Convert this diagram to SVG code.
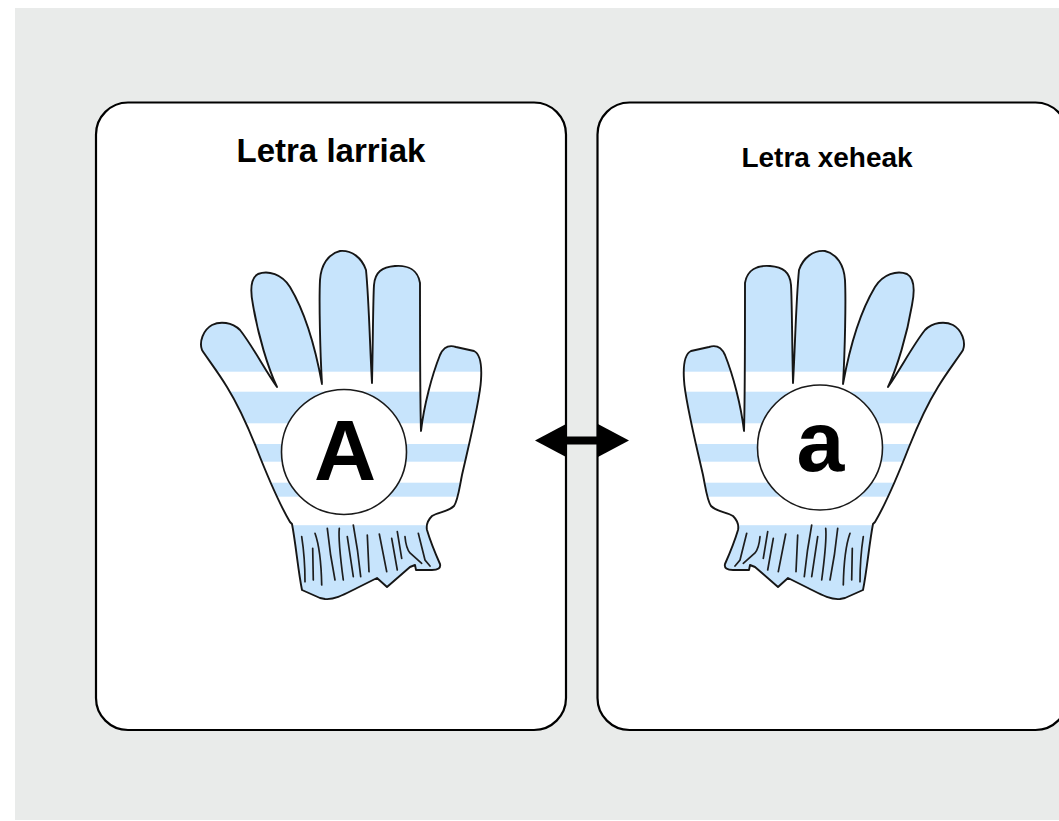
<svg xmlns="http://www.w3.org/2000/svg" xmlns:xlink="http://www.w3.org/1999/xlink" width="1059" height="821" viewBox="0 0 1059 821">
<style>
.card{fill:#ffffff;stroke:#000000;stroke-width:2.2}
.title{font-family:"Liberation Sans",Arial,sans-serif;font-weight:bold;fill:#000000;text-anchor:middle}
.badge{fill:#ffffff;stroke:#1a1a1a;stroke-width:1.6}
.letter{font-family:"Liberation Sans",Arial,sans-serif;font-weight:bold;font-size:86px;fill:#000000;text-anchor:middle}
.cuffline{fill:none;stroke:#1e1e1e;stroke-width:1.7;stroke-linecap:round}
</style>
<defs>
<path id="gloveOutline" d="M 292,524 L 290,522 C 280,505 265,470 256,447 C 250,432 240,408 227,387 C 218,372 207,358 202,350 C 199,342 203,330 212,325 C 220,321 232,322 240,330 C 252,345 265,370 277,387 C 268,368 258,335 253,305 C 250,290 251,278 258,274 C 268,270 282,274 290,287 C 302,307 314,340 322,384 C 320,350 319,300 320,280 C 321,265 328,254 340,251 C 352,250 362,258 366,270 C 369,300 370,350 372,383 C 373,340 373,300 374,285 C 375,272 382,267 395,266 C 408,265 418,270 420,283 C 420,330 420,400 421,431 C 424,405 432,375 440,355 C 444,346 450,345 456,347 L 474,351 C 480,354 482,365 481,380 C 480,400 470,440 462,475 C 459,490 458,500 454,506 C 448,512 438,512 432,516 C 428,520 426,525 427,530 C 430,540 436,555 440,564 C 441,568 438,570 432,570 L 416,570 L 415,565 L 410,567 L 387,587 L 377,578 L 357,588 C 345,594 335,600 325,599 L 320,598 L 302,590 C 298,570 296,545 292,524 Z"/>
<clipPath id="gloveClip"><use xlink:href="#gloveOutline"/></clipPath>
<g id="glove">
<use xlink:href="#gloveOutline" fill="#c7e4fc"/>
<g clip-path="url(#gloveClip)" fill="#ffffff">
<rect x="190" y="371.7" width="300" height="20"/>
<rect x="190" y="423.3" width="300" height="20.7"/>
<rect x="190" y="461.7" width="300" height="21"/>
<rect x="190" y="496.7" width="300" height="28.5"/>
</g>
<path class="cuffline" d="M 301.7,536.7 Q 305,558 305,581.7 M 312.7,548.3 L 313.3,580 M 315,533.3 Q 321,550 321.7,585 M 327.3,528.3 Q 330,555 335,580 M 339.3,528.3 Q 338,540 343.3,580 M 347.3,536.7 L 353.3,576.7 M 353.3,525 Q 358,550 360.7,576.7 M 367.3,535 L 369,571.7 M 379.3,534 L 386.7,571.7 M 391.7,538.3 L 397.3,570 M 397.3,531.7 L 401.7,558.3 M 405,536.7 Q 406,548 410,553 L 421.7,563.3 M 418.3,533.3 L 425,560 L 430,566"/>
<use xlink:href="#gloveOutline" fill="none" stroke="#161616" stroke-width="1.9" stroke-linejoin="round"/>
</g>
<marker id="arrowHead" viewBox="0 0 32 34" refX="2" refY="17" markerWidth="32" markerHeight="34" markerUnits="userSpaceOnUse" orient="auto-start-reverse">
<path d="M 0,0 L 32,17 L 0,34 Z" fill="#000000"/>
</marker>
</defs>
<rect x="0" y="0" width="1059" height="821" fill="#ffffff"/>
<rect x="15" y="8" width="1044" height="812" fill="#e9ebea"/>
<g id="card-upper">
<rect class="card" x="96" y="102.5" width="470" height="627.5" rx="32" ry="32"/>
<text class="title" x="331" y="162" font-size="33">Letra larriak</text>
<use xlink:href="#glove"/>
<circle class="badge" cx="344" cy="452" r="62.5"/>
<text class="letter" x="345" y="480">A</text>
</g>
<g id="card-lower">
<rect class="card" x="597.5" y="102.5" width="470" height="627.5" rx="32" ry="32"/>
<text class="title" x="827" y="166.5" font-size="28">Letra xeheak</text>
<use xlink:href="#glove" transform="translate(1165,0) scale(-1,1)"/>
<circle class="badge" cx="820" cy="447.5" r="62.5"/>
<text class="letter" x="820.5" y="471">a</text>
</g>
<g id="connectors">
<line x1="565" y1="440.5" x2="599" y2="440.5" stroke="#000000" stroke-width="8" marker-start="url(#arrowHead)" marker-end="url(#arrowHead)"/>
</g>
</svg>
